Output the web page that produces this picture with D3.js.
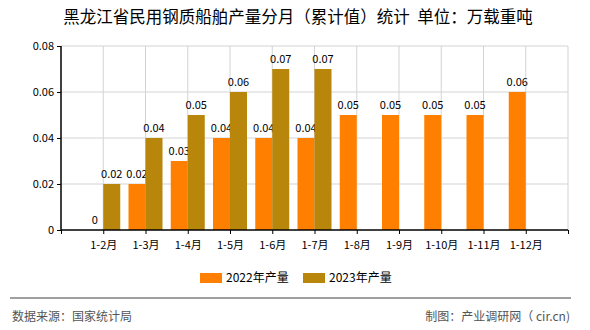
<!DOCTYPE html>
<html><head><meta charset="utf-8">
<script src="https://cdn.jsdelivr.net/npm/d3@7"></script>
<style>body{margin:0;background:#fff;}svg{display:block;font-family:"Noto Sans CJK SC","DejaVu Sans",sans-serif;}</style>
</head><body>
<svg id="c" width="590" height="330"></svg>
<script>
const categories = ["1-2月","1-3月","1-4月","1-5月","1-6月","1-7月","1-8月","1-9月","1-10月","1-11月","1-12月"];
const values2022 = [0,0.02,0.03,0.04,0.04,0.04,0.05,0.05,0.05,0.05,0.06];
const values2023 = [0.02,0.04,0.05,0.06,0.07,0.07,null,null,null,null,null];
const yTicks = [0,0.02,0.04,0.06,0.08];
const seriesNames = ["2022年产量","2023年产量"];
const colors = ["#FF8000","#B8860B"];

const svg = d3.select("#c");
const L=61, R=568, T=46, B=230;
const x = d3.scalePoint().domain(["", ...categories, " "]).range([L,R]);
const y = d3.scaleLinear().domain([0,0.08]).range([B,T]);
const bw = 17;

svg.append("text").attr("x",298).attr("y",23).attr("text-anchor","middle")
  .attr("font-size",16.5).attr("fill","#000").attr("xml:space","preserve")
  .text("黑龙江省民用钢质船舶产量分月（累计值）统计  单位：万载重吨");

// grid
const g = svg.append("g");
g.selectAll(".hg").data(yTicks.slice(1)).join("line")
  .attr("x1",L).attr("x2",R).attr("y1",d=>y(d)).attr("y2",d=>y(d)).attr("stroke","#d3d3d3");
g.selectAll(".vg").data(x.domain().slice(1)).join("line")
  .attr("x1",d=>x(d)).attr("x2",d=>x(d)).attr("y1",T).attr("y2",B).attr("stroke","#d3d3d3");

// bars
const data = [values2022, values2023];
data.forEach((vals,si)=>{
  const items = categories.map((c,i)=>({c,v:vals[i]})).filter(d=>d.v!==null);
  svg.append("g").selectAll("rect").data(items).join("rect")
    .attr("x",d=>x(d.c)+(si===0?-bw:0)).attr("width",bw)
    .attr("y",d=>y(d.v)).attr("height",d=>B-y(d.v)).attr("fill",colors[si]);
  svg.append("g").selectAll("text").data(items).join("text")
    .attr("x",d=>x(d.c)+(si===0?-bw/2:bw/2)).attr("y",d=>y(d.v)-6)
    .attr("text-anchor","middle").attr("font-size",11).attr("fill","#000")
    .text(d=>d.v===0?"0":d3.format(".2f")(d.v));
});

// axes
const ya = svg.append("g").attr("transform",`translate(${L},0)`)
  .call(d3.axisLeft(y).tickValues(yTicks).tickSize(4).tickFormat(d=>d===0?"0":d3.format(".2f")(d)));
const xa = svg.append("g").attr("transform",`translate(0,${B})`)
  .call(d3.axisBottom(x).tickValues(x.domain()).tickSize(4).tickFormat(d=>d.trim()));
[ya,xa].forEach(a=>{a.select(".domain").attr("stroke","#000").attr("stroke-width",1.5);
  a.selectAll(".tick line").attr("stroke","#000");
  a.selectAll("text").attr("font-size",11).attr("fill","#000").attr("font-family",'"Noto Sans CJK SC","DejaVu Sans",sans-serif');});
xa.selectAll("text").attr("dy","1.1em");
ya.select(".domain").attr("d",`M-0,${T}H0V${B}`);
xa.select(".domain").attr("d",`M${L},0H${R}`);

// legend
const lg = svg.append("g");
const lx = [200, 303];
seriesNames.forEach((n,i)=>{
  lg.append("rect").attr("x",lx[i]).attr("y",273).attr("width",22).attr("height",10).attr("fill",colors[i]);
  lg.append("text").attr("x",lx[i]+26).attr("y",282).attr("font-size",12).attr("fill","#000").text(n);
});

// footer
svg.append("line").attr("x1",10).attr("x2",571).attr("y1",298).attr("y2",298).attr("stroke","#808080").attr("stroke-width",1.5);
svg.append("text").attr("x",12).attr("y",321).attr("font-size",12).attr("fill","#555").text("数据来源：国家统计局");
svg.append("text").attr("x",570).attr("y",321).attr("text-anchor","end").attr("font-size",12).attr("fill","#555").text("制图：产业调研网（ cir.cn)");
</script>
</body></html>
